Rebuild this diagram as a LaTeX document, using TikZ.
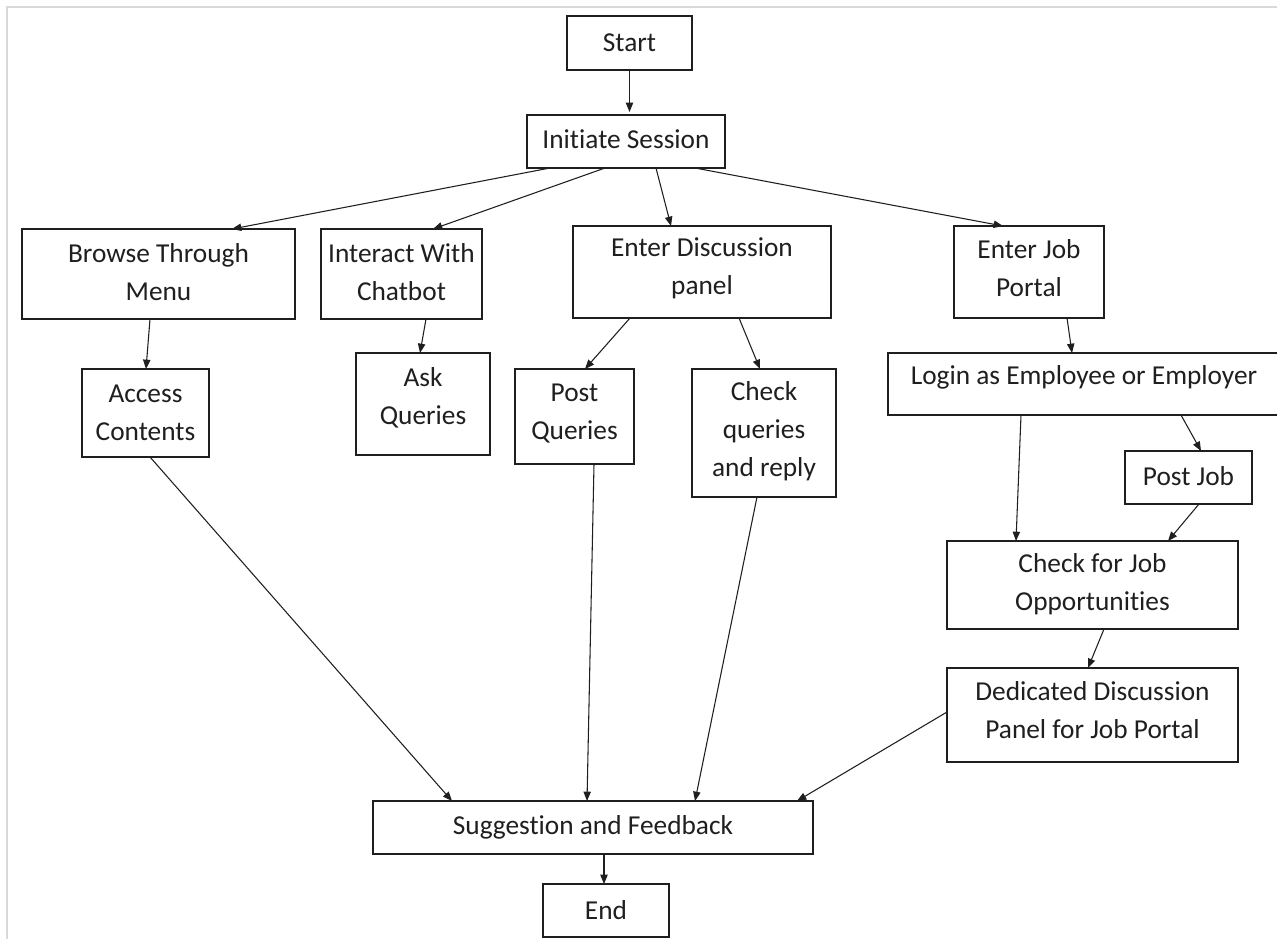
\documentclass[tikz,border=0pt]{standalone}
\usepackage{fontspec}
\setmainfont{Carlito}[Ligatures=NoCommon]
\usetikzlibrary{arrows.meta,calc}
\tikzset{
  box/.style={draw=black!88, line width=1.1pt, inner sep=0pt, outer sep=0pt, rectangle},
  txt/.style={font=\fontsize{20.5}{28.5}\selectfont, align=center, inner sep=0pt, text=black!88},
  arr/.style={-{Triangle[length=7pt,width=5.5pt]}, line width=0.8pt, draw=black!88},
}
\newcommand\bx[5]{\node[box,minimum width=#4*0.75pt,minimum height=#5*0.75pt] (#1) at (#2,#3) {};}
\begin{document}
\begin{tikzpicture}[x=0.75pt,y=-0.75pt]
\useasboundingbox (0,0) rectangle (1277,939);
\fill[white] (0,0) rectangle (1277,939);
\draw[draw=black!15, line width=1.5pt] (7,939) -- (7,7) -- (1277,7);
% boxes
\bx{start}{629.5}{43}{125}{54}
\bx{init}{626}{141.5}{198}{53}
\bx{browse}{158.5}{274}{273}{90}
\bx{chat}{401.5}{274}{161}{90}
\bx{disc}{702}{272}{258}{92}
\bx{job}{1029}{272}{150}{92}
\bx{access}{145.5}{413}{127}{88}
\bx{ask}{423}{404}{134}{102}
\bx{postq}{574.5}{416.5}{119}{95}
\bx{check}{764}{433}{144}{128}
\bx{login}{1084}{384}{392}{62}
\bx{postjob}{1188.5}{477.5}{127}{53}
\bx{cjob}{1092.5}{585}{291}{88}
\bx{ded}{1092.5}{715}{291}{94}
\bx{sugg}{593}{827.5}{440}{53}
\bx{end}{606}{910.5}{126}{53}
% texts
\node[txt] (startT) at ($(start.center)+(0,0)$) {Start};
\node[txt] (initT) at ($(init.center)+(0,-2)$) {Initiate Session};
\node[txt] (browseT) at ($(browse.center)+(0,-2)$) {Browse Through\\Menu};
\node[txt] (chatT) at ($(chat.center)+(0,-2)$) {Interact With\\Chatbot};
\node[txt] (discT) at ($(disc.center)+(0,-3.5)$) {Enter Discussion\\panel};
\node[txt] (jobT) at ($(job.center)+(0,-4)$) {Enter Job\\Portal};
\node[txt] (accessT) at ($(access.center)+(0,0)$) {Access\\Contents};
\node[txt] (askT) at ($(ask.center)+(0,-6)$) {Ask\\Queries};
\node[txt] (postqT) at ($(postq.center)+(0,-3)$) {Post\\Queries};
\node[txt] (checkT) at ($(check.center)+(0,-1.5)$) {Check\\queries\\and reply};
\node[txt] (loginT) at ($(login.center)+(0,-7)$) {Login as Employee or Employer};
\node[txt] (postjobT) at ($(postjob.center)+(0,-1.5)$) {Post Job};
\node[txt] (cjobT) at ($(cjob.center)+(0,-1)$) {Check for Job\\Opportunities};
\node[txt] (dedT) at ($(ded.center)+(0,-5)$) {Dedicated Discussion\\Panel for Job Portal};
\node[txt] (suggT) at ($(sugg.center)+(0,-0.5)$) {Suggestion and Feedback};
\node[txt] (endT) at ($(end.center)+(0,0)$) {End};
% connectors
\draw[arr] (start.south) -- ($(init.north)+(3.5,-3)$);
\draw[arr] ($(init.south)+(-76,0)$) -- ($(browse.north)+(73.5,0)$);
\draw[arr] ($(init.south)+(-21,0)$) -- ($(chat.north)+(31.5,0)$);
\draw[arr] ($(init.south)+(30,0)$) -- ($(disc.north)+(-31,0)$);
\draw[arr] ($(init.south)+(69,0)$) -- ($(job.north)+(-26,0)$);
\draw[arr] ($(browse.south)+(-8.5,0)$) -- ($(access.north)+(0.5,0)$);
\draw[arr] ($(chat.south)+(24.5,0)$) -- ($(ask.north)+(-3,0)$);
\draw[arr] ($(disc.south)+(-72,0)$) -- ($(postq.north)+(10.5,0)$);
\draw[arr] ($(disc.south)+(37,0)$) -- ($(check.north)+(-4,0)$);
\draw[arr] ($(job.south)+(38,0)$) -- ($(login.north)+(-12,0)$);
\draw[arr] ($(login.south)+(-63,0)$) -- ($(cjob.north)+(-76.5,0)$);
\draw[arr] ($(login.south)+(97,0)$) -- ($(postjob.north)+(12.5,0)$);
\draw[arr] ($(postjob.south)+(10.5,0)$) -- ($(cjob.north)+(75.5,0)$);
\draw[arr] ($(cjob.south)+(11.5,0)$) -- ($(ded.north)+(-4.5,0)$);
\draw[arr] ($(access.south)+(4.5,0)$) -- ($(sugg.north)+(-141,0)$);
\draw[arr] ($(postq.south)+(19.5,0)$) -- ($(sugg.north)+(-6,0)$);
\draw[arr] ($(check.south)+(-7,0)$) -- ($(sugg.north)+(102,0)$);
\draw[arr] ($(ded.west)+(0,-3)$) -- ($(sugg.north)+(204,0)$);
\draw[arr] ($(sugg.south)+(11,0)$) -- ($(end.north)+(-2,0)$);
\end{tikzpicture}
\end{document}
